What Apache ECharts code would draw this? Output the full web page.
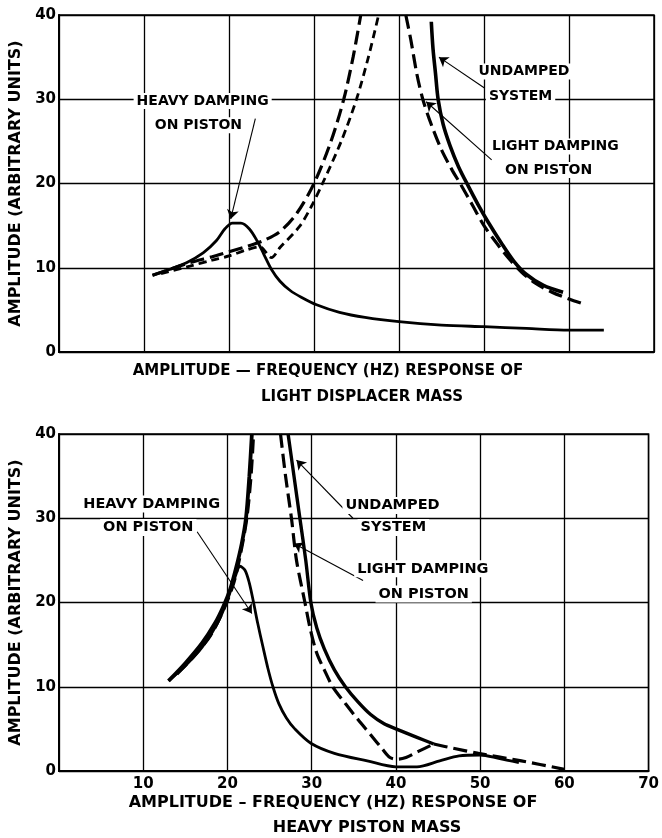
<!DOCTYPE html>
<html><head><meta charset="utf-8">
<script src="https://cdn.jsdelivr.net/npm/echarts@6/dist/echarts.min.js"></script>
<style>html,body{margin:0;padding:0;background:#fff}#c{width:662px;height:838px}</style>
</head><body><div id="c"></div>
<script>
// ---------- data (frequency Hz, amplitude) ----------
const xTicks = [0, 10, 20, 30, 40, 50, 60, 70];
const yTicks = [0, 10, 20, 30, 40];

// Top chart: light displacer mass
const topHeavy = [[11,9.1],[13,9.8],[15,10.6],[17,11.8],[18.5,13.2],[19.5,14.6],[20.4,15.3],[21.4,15.3],[22.4,14.6],[23.3,13.2],[24.1,11.6],[25,9.8],[26,8.4],[27.2,7.3],[28.5,6.5],[30.3,5.6],[33,4.7],[36,4.1],[40,3.6],[45,3.2],[50,3.0],[55,2.8],[60,2.6],[64.1,2.6]];
const topLeftLong = [[11,9.1],[13,9.8],[15.4,10.6],[18,11.3],[20,11.9],[22,12.5],[24,13.2],[26,14.3],[28,16.5],[30,20],[32,25],[33.5,30],[34.6,35],[35.5,40]];
const topLeftShort = [[12,9.3],[15.4,10.2],[18,10.9],[20,11.4],[22,12.1],[23.6,12.5],[25,11.2],[26,12.4],[28.3,14.9],[29.7,17.3],[31,20],[33.2,25],[35,30],[36.4,35],[37.6,40]];
const topRightDash = [[40.8,40],[41.4,37],[42.1,33],[42.8,30],[43.8,27],[45,24],[46.3,21.5],[47.2,20],[48.6,17.5],[50,15.0],[51.5,12.9],[53,11],[54.5,9.4],[56,8.2],[58,7.1],[60,6.3],[61.7,5.7]];
const topRightSolid = [[43.8,39.2],[44.0,36],[44.3,33],[44.6,30],[45.2,27],[46,24.5],[47,22],[48.2,19.6],[49.3,17.5],[50.5,15.4],[52,13],[53.5,10.8],[55,9.2],[57,7.9],[59.3,7.1]];

// Bottom chart: heavy piston mass
const botHeavy = [[13,10.7],[15,12.5],[17,14.7],[18.8,17.5],[20,20.3],[20.9,23],[21.5,24.3],[22.1,23.8],[22.6,22.3],[23.1,20],[23.6,17.5],[24.2,14.8],[24.8,12.2],[25.4,10],[26.1,8.0],[27,6.3],[28,5.0],[29.9,3.3],[32.7,2.1],[36.6,1.2],[40,0.5],[42.5,0.5],[45.2,1.2],[47.5,1.8],[50,1.9],[52.2,1.5],[54.6,1.0]];
const botUndampedLeft = [[13,10.7],[15,12.8],[17,15.2],[18.5,17.5],[19.5,19.5],[20.3,21.5],[21,24],[21.7,27],[22.2,30],[22.6,35],[22.9,40]];
const botLightLeft = [[14,11.5],[16,13.6],[18,16.1],[19.7,19.5],[20.8,22.5],[21.6,26],[22.3,30],[22.8,35],[23.1,40]];
const botUndampedRight = [[27.2,40],[27.9,35],[28.6,30],[29.3,25],[29.9,20],[30.6,17],[31.5,14.5],[32.7,12],[34,10],[35.5,8.2],[37,6.7],[38.6,5.6],[40,5.0],[42.5,4.0],[44.5,3.2]];
const botUndampedTail = [[44.5,3.2],[46.8,2.7],[49.8,2.1],[54.9,1.2],[60,0.2]];
const botLightRight = [[26.3,40],[26.9,35],[27.6,30],[28.2,25],[29.2,20],[29.8,17],[30.6,14],[31.5,12],[32.5,10],[34,8],[35.5,6.1],[37,4.3],[38.4,2.6],[39.3,1.6],[40.2,1.4],[41.2,1.6],[42.6,2.3],[44.5,3.2]];

// ---------- chart ----------
const FONT = '"DejaVu Sans", sans-serif';
const chart = echarts.init(document.getElementById('c'), null, {renderer: 'canvas'});

function xAx(gi, labels) {
  return {
    type: 'value', gridIndex: gi, min: xTicks[0], max: xTicks[xTicks.length - 1], interval: 10,
    axisLine: {show: true, lineStyle: {color: '#000', width: 2}},
    axisTick: {show: false},
    splitLine: {show: true, lineStyle: {color: '#000', width: 1.3}},
    axisLabel: {show: labels, color: '#000', fontFamily: FONT, fontWeight: 'bold', fontSize: 15, margin: 6,
      formatter: v => (v === 0 ? '' : String(v))}
  };
}
function yAx(gi) {
  return {
    type: 'value', gridIndex: gi, min: yTicks[0], max: yTicks[yTicks.length - 1], interval: 10,
    name: 'AMPLITUDE (ARBITRARY UNITS)', nameLocation: 'middle', nameGap: 25, nameRotate: 90,
    nameTextStyle: {color: '#000', fontFamily: FONT, fontWeight: 'bold', fontSize: 16},
    axisLine: {show: true, lineStyle: {color: '#000', width: 2}},
    axisTick: {show: false},
    splitLine: {show: true, lineStyle: {color: '#000', width: 1.3}},
    axisLabel: {color: '#000', fontFamily: FONT, fontWeight: 'bold', fontSize: 15, margin: 3}
  };
}
function ln(data, gi, width, type) {
  return {type: 'line', xAxisIndex: gi, yAxisIndex: gi, data, smooth: 0.3, symbol: 'none',
    lineStyle: {color: '#000', width, type, cap: 'butt'}, animation: false, z: 3};
}
function arrows(gi, pairs) {
  return {type: 'line', xAxisIndex: gi, yAxisIndex: gi, data: [], animation: false,
    markLine: {silent: true, animation: false, symbol: ['none', 'arrow'], symbolSize: 9,
      lineStyle: {color: '#000', width: 1.1, type: 'solid'}, label: {show: false},
      data: pairs.map(p => [{coord: p[0]}, {coord: p[1]}])}};
}

const LONG = [14, 6], SHORT = [8, 5];

chart.setOption({
  backgroundColor: '#fff',
  animation: false,
  grid: [
    {left: 59, top: 15, width: 595, height: 337, show: true, borderColor: '#000', borderWidth: 1.5, backgroundColor: 'transparent'},
    {left: 59, top: 434, width: 594, height: 337, show: true, borderColor: '#000', borderWidth: 1.5, backgroundColor: 'transparent'}
  ],
  xAxis: [xAx(0, false), xAx(1, true)],
  yAxis: [yAx(0), yAx(1)],
  series: [
    ln(topHeavy, 0, 2.8, 'solid'),
    ln(topLeftLong, 0, 3.2, LONG),
    ln(topLeftShort, 0, 2.8, SHORT),
    ln(topRightDash, 0, 3.2, LONG),
    ln(topRightSolid, 0, 3.6, 'solid'),
    ln(botHeavy, 1, 2.8, 'solid'),
    ln(botUndampedLeft, 1, 3.8, 'solid'),
    ln(botLightLeft, 1, 3.2, LONG),
    ln(botUndampedRight, 1, 3.4, 'solid'),
    ln(botUndampedTail, 1, 3.2, LONG),
    ln(botLightRight, 1, 3.2, LONG),
    arrows(0, [[[23.1, 27.7], [20.2, 15.8]], [[50.1, 31.3], [44.7, 35]], [[50.9, 22.8], [43.2, 29.7]]]),
    arrows(1, [[[16.4, 28.4], [22.9, 18.7]], [[34.9, 30], [28.2, 36.9]], [[36.1, 22.6], [27.9, 27]]])
  ]
});

// ---------- annotations ----------
const notes = [
  [0, 'HEAVY DAMPING', 16.9, 29.8], [0, 'ON PISTON', 16.4, 26.9],
  [0, 'UNDAMPED', 54.7, 33.3], [0, 'SYSTEM', 54.3, 30.4],
  [0, 'LIGHT DAMPING', 58.4, 24.4], [0, 'ON PISTON', 57.6, 21.6],
  [1, 'HEAVY DAMPING', 11.0, 31.7], [1, 'ON PISTON', 10.6, 28.9],
  [1, 'UNDAMPED', 39.6, 31.5], [1, 'SYSTEM', 39.7, 28.9],
  [1, 'LIGHT DAMPING', 43.2, 24.0], [1, 'ON PISTON', 43.3, 21.0]
];
const g = notes.map(n => {
  const p = chart.convertToPixel({gridIndex: n[0]}, [n[2], n[3]]);
  return {type: 'text', x: p[0], y: p[1], z: 10,
    style: {text: n[1], fill: '#000', font: 'bold ' + (n[0] ? 14.5 : 14) + 'px ' + FONT, align: 'center', verticalAlign: 'middle',
      backgroundColor: '#fff', padding: [1, 3]}};
});
const titles = [
  ['AMPLITUDE — FREQUENCY (HZ) RESPONSE OF', 328, 371, 15],
  ['LIGHT DISPLACER MASS', 362, 397, 15],
  ['AMPLITUDE – FREQUENCY (HZ) RESPONSE OF', 333, 803, 16],
  ['HEAVY PISTON MASS', 367, 828, 16]
];
titles.forEach(t => g.push({type: 'text', x: t[1], y: t[2], z: 10,
  style: {text: t[0], fill: '#000', font: 'bold ' + t[3] + 'px ' + FONT, align: 'center', verticalAlign: 'middle'}}));
chart.setOption({graphic: g});
</script></body></html>
